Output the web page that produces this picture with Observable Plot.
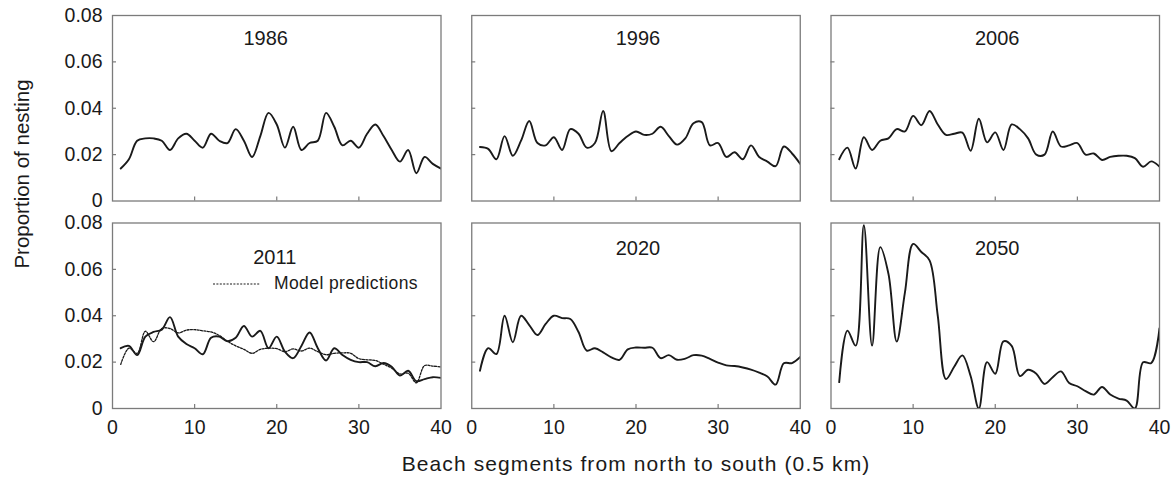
<!DOCTYPE html>
<html>
<head>
<meta charset="utf-8">
<script src="https://cdn.jsdelivr.net/npm/d3@7"></script>
<script src="https://cdn.jsdelivr.net/npm/@observablehq/plot@0.6"></script>
<style>
  body { margin: 0; background: #fff; }
  #chart svg { display: block; }
</style>
</head>
<body>
<div id="chart"></div>
<script>
// ---- data ----
const segments = d3.range(1, 41); // beach segments 1..40
const years = ["1986", "1996", "2006", "2011", "2020", "2050"];

const y1986 = [0.014, 0.018, 0.026, 0.027, 0.027, 0.026, 0.022, 0.027, 0.029, 0.026,
               0.023, 0.029, 0.026, 0.025, 0.031, 0.026, 0.019, 0.028, 0.038, 0.033,
               0.023, 0.032, 0.022, 0.025, 0.026, 0.038, 0.032, 0.024, 0.026, 0.023,
               0.029, 0.033, 0.028, 0.022, 0.017, 0.022, 0.012, 0.019, 0.016, 0.014];
const y1996 = [0.0233, 0.0225, 0.018, 0.028, 0.0195, 0.026, 0.0345, 0.025, 0.024, 0.0275,
               0.022, 0.031, 0.029, 0.023, 0.025, 0.0388, 0.0215, 0.025, 0.028, 0.030,
               0.0285, 0.029, 0.032, 0.028, 0.0243, 0.027, 0.0335, 0.034, 0.024, 0.025,
               0.019, 0.021, 0.018, 0.024, 0.019, 0.017, 0.015, 0.0235, 0.0205, 0.016];
const y2006 = [0.018, 0.023, 0.014, 0.0275, 0.022, 0.026, 0.027, 0.031, 0.030, 0.0367,
               0.0327, 0.0388, 0.033, 0.0285, 0.029, 0.0295, 0.0217, 0.0355, 0.0253, 0.0296,
               0.022, 0.033, 0.031, 0.027, 0.020, 0.020, 0.030, 0.0235, 0.024, 0.025,
               0.020, 0.0205, 0.0177, 0.019, 0.0195, 0.0195, 0.0185, 0.0148, 0.0171, 0.0148];
const y2011 = [0.026, 0.027, 0.023, 0.031, 0.033, 0.034, 0.0394, 0.031, 0.0278, 0.026,
               0.0234, 0.0305, 0.031, 0.029, 0.0305, 0.0356, 0.031, 0.0335, 0.026, 0.031,
               0.0245, 0.0217, 0.027, 0.0328, 0.026, 0.0207, 0.026, 0.0231, 0.021, 0.020,
               0.020, 0.0182, 0.0196, 0.018, 0.0142, 0.0163, 0.0118, 0.0127, 0.0135, 0.0132];
const model2011 = [0.019, 0.026, 0.0238, 0.0333, 0.0288, 0.0345, 0.0345, 0.0326, 0.0338, 0.034,
                   0.0335, 0.033, 0.0315, 0.029, 0.027, 0.0255, 0.0238, 0.0255, 0.026, 0.0258,
                   0.0245, 0.0257, 0.0248, 0.026, 0.0245, 0.0232, 0.0238, 0.024, 0.0238, 0.0215,
                   0.021, 0.0207, 0.0191, 0.0174, 0.0149, 0.0152, 0.0111, 0.0185, 0.0183, 0.0179];
const y2020 = [0.0163, 0.026, 0.0235, 0.040, 0.0286, 0.040, 0.036, 0.0317, 0.0365, 0.040,
               0.039, 0.0386, 0.033, 0.025, 0.026, 0.0242, 0.022, 0.021, 0.0255, 0.0263,
               0.0262, 0.0262, 0.0217, 0.023, 0.021, 0.0215, 0.023, 0.0228, 0.0214, 0.0198,
               0.0186, 0.0183, 0.0177, 0.0168, 0.0155, 0.0138, 0.0103, 0.0195, 0.0196, 0.0222];
const y2050 = [0.0114, 0.0336, 0.0271, 0.079, 0.0271, 0.0696, 0.058, 0.0289, 0.050, 0.071,
               0.0675, 0.0639, 0.040, 0.0127, 0.018, 0.0229, 0.014, 0.0, 0.020, 0.015,
               0.029, 0.027, 0.014, 0.0167, 0.015, 0.0106, 0.0135, 0.016, 0.011, 0.0096,
               0.0075, 0.006, 0.0093, 0.006, 0.0043, 0.0034, 0.0, 0.0199, 0.0196, 0.0346];

const xTicks = [0, 10, 20, 30, 40];
const yTicks = [0, 0.02, 0.04, 0.06, 0.08];
const xLabel = "Beach segments from north to south (0.5 km)";
const yLabel = "Proportion of nesting";
const legendLabel = "Model predictions";

// ---- tables for Plot ----
const observed = [y1986, y1996, y2006, y2011, y2020, y2050];
const obsRows = years.flatMap((yr, i) => observed[i].map((v, j) => ({
  year: yr, seg: segments[j], value: v, col: i % 3, row: Math.floor(i / 3)
})));
const modelRows = model2011.map((v, j) => ({ year: "2011", seg: segments[j], value: v, col: 0, row: 1 }));
const titleRows = years.map((yr, i) => ({ year: yr, col: i % 3, row: Math.floor(i / 3) }));

// ---- layout ----
const W = 1176, H = 486;
const mL = 112, mR = 17, mT = 15, mB = 78;
const padX = 0.0856, padY = 0.106;
const bandW = (W - mL - mR) / (3 - padX) * (1 - padX);
const bandH = (H - mT - mB) / (2 - padY) * (1 - padY);
const tickLen = 4;
const frameColor = "#7b7b7b";
const ink = "#1a1a1a";

const titleOpts = { fx: "col", fy: "row", text: "year", frameAnchor: "top", lineAnchor: "middle", fontSize: 20, fill: ink };

const chart = Plot.plot({
  width: W, height: H,
  marginLeft: mL, marginRight: mR, marginTop: mT, marginBottom: mB,
  style: { fontFamily: "'Liberation Sans', Arial, Helvetica, sans-serif", fontSize: "18px", background: "#fff", color: ink },
  fx: { domain: [0, 1, 2], paddingInner: padX, paddingOuter: 0, round: false, axis: null },
  fy: { domain: [0, 1], paddingInner: padY, paddingOuter: 0, round: false, axis: null },
  x: { domain: [0, 40] },
  y: { domain: [0, 0.08] },
  marks: [
    Plot.frame({ stroke: frameColor, strokeWidth: 1.3 }),
    Plot.ruleX(xTicks.slice(1, -1), { x: d => d, insetTop: bandH - tickLen, stroke: frameColor, strokeWidth: 1.2 }),
    Plot.ruleY(yTicks.slice(1, -1), { y: d => d, insetRight: bandW - tickLen, stroke: frameColor, strokeWidth: 1.2 }),
    Plot.axisX(xTicks, { tickSize: 0, tickPadding: 12, fontSize: 19.5, label: null, tickFormat: d => String(d), fill: ink }),
    Plot.axisY(yTicks, { tickSize: 0, tickPadding: 10, fontSize: 19.5, label: null, tickFormat: d => d === 0 ? "0" : d.toFixed(2), fill: ink }),
    Plot.line(modelRows, { x: "seg", y: "value", fx: "col", fy: "row", curve: "catmull-rom",
      stroke: ink, strokeWidth: 1.3, strokeDasharray: "2,1.4", clip: true }),
    Plot.line(obsRows, { x: "seg", y: "value", z: "year", fx: "col", fy: "row", curve: "catmull-rom",
      stroke: ink, strokeWidth: 1.9, clip: true }),
    Plot.text(titleRows.filter(d => d.row === 0 && d.col === 0), { ...titleOpts, dy: 23, dx: -11 }),
    Plot.text(titleRows.filter(d => d.row === 0 && d.col !== 0), { ...titleOpts, dy: 23, dx: 2 }),
    Plot.text(titleRows.filter(d => d.row === 1 && d.col === 0), { ...titleOpts, dy: 35, dx: -2 }),
    Plot.text(titleRows.filter(d => d.row === 1 && d.col !== 0), { ...titleOpts, dy: 26, dx: 2 })
  ]
});

const svg = d3.select(chart);
// axis titles
svg.append("text")
  .attr("x", 636).attr("y", 465)
  .attr("text-anchor", "middle").attr("dominant-baseline", "middle")
  .attr("font-size", 21).attr("letter-spacing", "1.1px").attr("fill", ink)
  .text(xLabel);
svg.append("text")
  .attr("transform", "translate(24,174) rotate(-90)")
  .attr("text-anchor", "middle").attr("dominant-baseline", "middle")
  .attr("font-size", 20.5).attr("fill", ink)
  .text(yLabel);
// legend in the 2011 panel
svg.append("line")
  .attr("x1", 213).attr("x2", 260).attr("y1", 284).attr("y2", 284)
  .attr("stroke", ink).attr("stroke-width", 1.2).attr("stroke-dasharray", "2,1.4");
svg.append("text")
  .attr("x", 274).attr("y", 284)
  .attr("text-anchor", "start").attr("dominant-baseline", "middle")
  .attr("font-size", 17.5).attr("letter-spacing", "0.4px").attr("fill", ink)
  .text(legendLabel);

document.getElementById("chart").appendChild(chart);
</script>
</body>
</html>
